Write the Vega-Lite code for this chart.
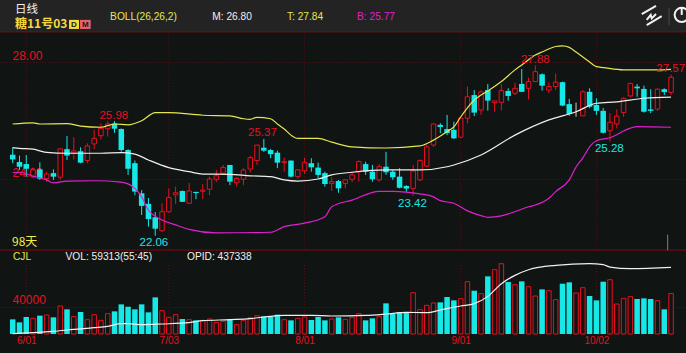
{"$schema":"https://vega.github.io/schema/vega-lite/v6.json","width":686,"height":353,"autosize":{"type":"none"},"padding":0,"background":"#101413","config":{"view":{"stroke":null},"text":{"font":"Liberation Sans"},"axis":{"labelFont":"Liberation Sans"}},
"datasets":{"candles":[
{"i":0,"open":24.83,"high":25.08,"low":24.54,"close":24.67,"dir":"down","volume":21470},
{"i":1,"open":24.58,"high":24.80,"low":24.31,"close":24.42,"dir":"down","volume":17080},
{"i":2,"open":24.51,"high":24.82,"low":24.08,"close":24.35,"dir":"down","volume":24890},
{"i":3,"open":24.07,"high":24.39,"low":24.03,"close":24.31,"dir":"up","volume":22940},
{"i":4,"open":24.33,"high":24.57,"low":23.97,"close":24.01,"dir":"down","volume":26840},
{"i":5,"open":24.01,"high":24.25,"low":23.90,"close":24.17,"dir":"up","volume":27820},
{"i":6,"open":24.20,"high":24.33,"low":23.97,"close":24.08,"dir":"down","volume":24400},
{"i":7,"open":24.06,"high":25.05,"low":23.97,"close":25.03,"dir":"up","volume":40990},
{"i":8,"open":25.02,"high":25.47,"low":24.65,"close":24.80,"dir":"down","volume":36110},
{"i":9,"open":24.89,"high":25.43,"low":24.67,"close":24.96,"dir":"up","volume":25380},
{"i":10,"open":24.95,"high":25.08,"low":24.54,"close":24.56,"dir":"down","volume":32210},
{"i":11,"open":24.63,"high":25.22,"low":24.54,"close":25.13,"dir":"up","volume":20980},
{"i":12,"open":25.20,"high":25.68,"low":25.02,"close":25.39,"dir":"up","volume":28300},
{"i":13,"open":25.48,"high":25.90,"low":25.36,"close":25.73,"dir":"up","volume":20010},
{"i":14,"open":25.72,"high":25.97,"low":25.45,"close":25.88,"dir":"up","volume":29770},
{"i":15,"open":25.90,"high":25.98,"low":25.58,"close":25.72,"dir":"down","volume":33180},
{"i":16,"open":25.71,"high":25.73,"low":24.93,"close":24.99,"dir":"down","volume":43430},
{"i":17,"open":24.99,"high":25.02,"low":24.14,"close":24.35,"dir":"down","volume":40020},
{"i":18,"open":24.54,"high":24.63,"low":23.45,"close":23.57,"dir":"down","volume":36110},
{"i":19,"open":23.51,"high":23.62,"low":22.77,"close":23.08,"dir":"down","volume":43430},
{"i":20,"open":23.15,"high":23.35,"low":22.37,"close":22.63,"dir":"down","volume":31720},
{"i":21,"open":22.69,"high":22.87,"low":22.06,"close":22.30,"dir":"down","volume":53680},
{"i":22,"open":22.23,"high":23.17,"low":22.20,"close":22.88,"dir":"up","volume":34160},
{"i":23,"open":22.88,"high":23.68,"low":22.85,"close":23.37,"dir":"up","volume":24400},
{"i":24,"open":23.46,"high":23.74,"low":23.15,"close":23.53,"dir":"up","volume":28300},
{"i":25,"open":23.59,"high":23.61,"low":23.21,"close":23.22,"dir":"down","volume":21960},
{"i":26,"open":23.17,"high":23.87,"low":23.15,"close":23.59,"dir":"up","volume":20980},
{"i":27,"open":23.56,"high":23.56,"low":23.31,"close":23.52,"dir":"down","volume":20010},
{"i":28,"open":23.58,"high":23.83,"low":23.31,"close":23.62,"dir":"up","volume":20010},
{"i":29,"open":23.65,"high":24.08,"low":23.45,"close":24.00,"dir":"up","volume":21960},
{"i":30,"open":23.99,"high":24.31,"low":23.89,"close":24.11,"dir":"up","volume":17080},
{"i":31,"open":24.20,"high":24.48,"low":24.14,"close":24.39,"dir":"up","volume":18540},
{"i":32,"open":24.48,"high":24.48,"low":23.79,"close":23.91,"dir":"down","volume":20980},
{"i":33,"open":23.87,"high":24.07,"low":23.74,"close":24.02,"dir":"up","volume":13660},
{"i":34,"open":23.99,"high":24.37,"low":23.79,"close":24.31,"dir":"up","volume":20010},
{"i":35,"open":24.34,"high":24.79,"low":24.23,"close":24.73,"dir":"up","volume":23910},
{"i":36,"open":24.63,"high":25.16,"low":24.48,"close":25.16,"dir":"up","volume":26840},
{"i":37,"open":25.07,"high":25.37,"low":24.93,"close":24.97,"dir":"down","volume":25860},
{"i":38,"open":24.99,"high":25.03,"low":24.71,"close":24.85,"dir":"down","volume":25860},
{"i":39,"open":24.90,"high":24.97,"low":24.37,"close":24.56,"dir":"down","volume":28300},
{"i":40,"open":24.56,"high":24.73,"low":24.25,"close":24.59,"dir":"up","volume":20980},
{"i":41,"open":24.63,"high":24.63,"low":24.06,"close":24.08,"dir":"down","volume":20010},
{"i":42,"open":24.08,"high":24.34,"low":24.02,"close":24.31,"dir":"up","volume":22940},
{"i":43,"open":24.28,"high":24.73,"low":24.17,"close":24.57,"dir":"up","volume":24890},
{"i":44,"open":24.54,"high":24.71,"low":24.25,"close":24.40,"dir":"down","volume":20500},
{"i":45,"open":24.39,"high":24.56,"low":24.02,"close":24.14,"dir":"down","volume":24890},
{"i":46,"open":24.20,"high":24.25,"low":23.74,"close":23.83,"dir":"down","volume":20010},
{"i":47,"open":23.85,"high":24.06,"low":23.59,"close":23.91,"dir":"up","volume":21960},
{"i":48,"open":23.93,"high":23.97,"low":23.53,"close":23.68,"dir":"down","volume":24400},
{"i":49,"open":23.85,"high":23.99,"low":23.68,"close":23.97,"dir":"up","volume":21470},
{"i":50,"open":23.99,"high":24.25,"low":23.89,"close":24.14,"dir":"up","volume":24400},
{"i":51,"open":24.25,"high":24.63,"low":23.91,"close":24.60,"dir":"up","volume":29770},
{"i":52,"open":24.51,"high":24.59,"low":24.14,"close":24.25,"dir":"down","volume":20010},
{"i":53,"open":24.25,"high":24.48,"low":23.91,"close":23.99,"dir":"down","volume":22940},
{"i":54,"open":23.97,"high":24.51,"low":23.91,"close":24.42,"dir":"up","volume":25380},
{"i":55,"open":24.42,"high":24.93,"low":24.14,"close":24.23,"dir":"down","volume":44900},
{"i":56,"open":24.25,"high":24.31,"low":23.97,"close":24.06,"dir":"down","volume":29280},
{"i":57,"open":24.08,"high":24.37,"low":23.68,"close":23.70,"dir":"down","volume":32210},
{"i":58,"open":23.76,"high":23.79,"low":23.57,"close":23.67,"dir":"down","volume":32210},
{"i":59,"open":23.68,"high":24.48,"low":23.42,"close":24.28,"dir":"up","volume":60510},
{"i":60,"open":23.97,"high":24.67,"low":23.93,"close":24.63,"dir":"up","volume":35620},
{"i":61,"open":24.44,"high":25.16,"low":24.42,"close":25.10,"dir":"up","volume":41970},
{"i":62,"open":25.16,"high":25.90,"low":25.10,"close":25.88,"dir":"up","volume":45380},
{"i":63,"open":25.85,"high":25.91,"low":25.57,"close":25.78,"dir":"down","volume":46360},
{"i":64,"open":25.71,"high":26.19,"low":25.50,"close":25.57,"dir":"down","volume":54170},
{"i":65,"open":25.68,"high":25.96,"low":25.37,"close":25.39,"dir":"down","volume":49290},
{"i":66,"open":25.43,"high":26.11,"low":25.39,"close":26.08,"dir":"up","volume":51730},
{"i":67,"open":26.08,"high":27.16,"low":25.90,"close":26.81,"dir":"up","volume":76620},
{"i":68,"open":26.87,"high":27.04,"low":26.15,"close":26.27,"dir":"down","volume":63440},
{"i":69,"open":26.36,"high":27.04,"low":26.19,"close":26.98,"dir":"up","volume":59050},
{"i":70,"open":27.04,"high":27.25,"low":26.34,"close":26.68,"dir":"down","volume":84420},
{"i":71,"open":26.61,"high":26.67,"low":26.30,"close":26.67,"dir":"up","volume":94180},
{"i":72,"open":26.62,"high":27.25,"low":26.34,"close":27.02,"dir":"up","volume":102970},
{"i":73,"open":27.01,"high":27.10,"low":26.68,"close":26.84,"dir":"down","volume":76130},
{"i":74,"open":26.93,"high":27.29,"low":26.87,"close":27.10,"dir":"up","volume":72220},
{"i":75,"open":27.25,"high":27.76,"low":26.98,"close":26.98,"dir":"down","volume":77100},
{"i":76,"open":27.10,"high":27.46,"low":26.72,"close":27.33,"dir":"up","volume":69300},
{"i":77,"open":27.33,"high":27.88,"low":27.33,"close":27.67,"dir":"up","volume":55630},
{"i":78,"open":27.58,"high":27.61,"low":27.02,"close":27.19,"dir":"down","volume":65390},
{"i":79,"open":27.04,"high":27.31,"low":26.93,"close":27.16,"dir":"up","volume":63440},
{"i":80,"open":27.16,"high":27.61,"low":27.04,"close":27.31,"dir":"up","volume":50260},
{"i":81,"open":27.31,"high":27.33,"low":26.49,"close":26.51,"dir":"down","volume":73690},
{"i":82,"open":26.56,"high":26.74,"low":26.16,"close":26.22,"dir":"down","volume":75640},
{"i":83,"open":26.32,"high":26.61,"low":26.13,"close":26.30,"dir":"flat","volume":60020},
{"i":84,"open":26.16,"high":27.04,"low":26.15,"close":26.98,"dir":"up","volume":67830},
{"i":85,"open":26.98,"high":27.10,"low":26.42,"close":26.47,"dir":"down","volume":55630},
{"i":86,"open":26.53,"high":26.76,"low":26.19,"close":26.33,"dir":"down","volume":49290},
{"i":87,"open":26.33,"high":26.43,"low":25.56,"close":25.58,"dir":"down","volume":76620},
{"i":88,"open":25.65,"high":26.25,"low":25.28,"close":25.94,"dir":"up","volume":79540},
{"i":89,"open":25.88,"high":26.38,"low":25.73,"close":26.15,"dir":"up","volume":43920},
{"i":90,"open":26.27,"high":26.79,"low":26.13,"close":26.76,"dir":"up","volume":52220},
{"i":91,"open":26.84,"high":27.29,"low":26.81,"close":27.27,"dir":"up","volume":54660},
{"i":92,"open":27.16,"high":27.25,"low":26.81,"close":27.10,"dir":"down","volume":51240},
{"i":93,"open":27.08,"high":27.19,"low":26.27,"close":26.30,"dir":"down","volume":52220},
{"i":94,"open":26.38,"high":27.07,"low":26.25,"close":26.33,"dir":"down","volume":51240},
{"i":95,"open":26.39,"high":27.10,"low":26.33,"close":27.07,"dir":"up","volume":48800},
{"i":96,"open":27.07,"high":27.10,"low":26.87,"close":26.97,"dir":"down","volume":36110},
{"i":97,"open":26.96,"high":27.57,"low":26.87,"close":27.48,"dir":"up","volume":59313}],
"boll":[
{"s":"T","i":0,"p":25.88},{"s":"T","i":3,"p":25.92},{"s":"T","i":4,"p":25.88},{"s":"T","i":8,"p":25.89},{"s":"T","i":10,"p":25.81},{"s":"T","i":13,"p":25.77},{"s":"T","i":15,"p":25.88},{"s":"T","i":17,"p":25.85},{"s":"T","i":19,"p":25.99},{"s":"T","i":21,"p":26.27},{"s":"T","i":23,"p":26.27},{"s":"T","i":28,"p":26.18},{"s":"T","i":32,"p":26.16},{"s":"T","i":34,"p":26.06},{"s":"T","i":35,"p":26.04},{"s":"T","i":36,"p":26.11},{"s":"T","i":38,"p":26.06},{"s":"T","i":39,"p":25.88},{"s":"T","i":40,"p":25.71},{"s":"T","i":41,"p":25.50},{"s":"T","i":42,"p":25.39},{"s":"T","i":45,"p":25.39},{"s":"T","i":47,"p":25.26},{"s":"T","i":50,"p":25.10},{"s":"T","i":55,"p":25.06},{"s":"T","i":60,"p":25.13},{"s":"T","i":62,"p":25.33},{"s":"T","i":64,"p":25.62},{"s":"T","i":65,"p":25.78},{"s":"T","i":66,"p":26.12},{"s":"T","i":67,"p":26.43},{"s":"T","i":68,"p":26.70},{"s":"T","i":69,"p":26.87},{"s":"T","i":70,"p":27.01},{"s":"T","i":72,"p":27.33},{"s":"T","i":74,"p":27.73},{"s":"T","i":75,"p":27.90},{"s":"T","i":77,"p":28.24},{"s":"T","i":78,"p":28.34},{"s":"T","i":80,"p":28.53},{"s":"T","i":81,"p":28.55},{"s":"T","i":82,"p":28.50},{"s":"T","i":83,"p":28.34},{"s":"T","i":85,"p":28.00},{"s":"T","i":86,"p":27.84},{"s":"T","i":87,"p":27.81},{"s":"T","i":90,"p":27.73},{"s":"T","i":95,"p":27.73},{"s":"T","i":97,"p":27.75},
{"s":"M","i":0,"p":25.07},{"s":"M","i":1,"p":25.05},{"s":"M","i":3,"p":25.02},{"s":"M","i":4,"p":24.96},{"s":"M","i":5,"p":24.91},{"s":"M","i":8,"p":24.88},{"s":"M","i":13,"p":24.88},{"s":"M","i":16,"p":24.90},{"s":"M","i":18,"p":24.85},{"s":"M","i":20,"p":24.65},{"s":"M","i":23,"p":24.39},{"s":"M","i":26,"p":24.25},{"s":"M","i":28,"p":24.17},{"s":"M","i":32,"p":24.16},{"s":"M","i":35,"p":24.11},{"s":"M","i":38,"p":24.08},{"s":"M","i":40,"p":23.97},{"s":"M","i":42,"p":23.93},{"s":"M","i":45,"p":24.00},{"s":"M","i":47,"p":24.14},{"s":"M","i":50,"p":24.23},{"s":"M","i":55,"p":24.31},{"s":"M","i":60,"p":24.31},{"s":"M","i":64,"p":24.42},{"s":"M","i":65,"p":24.48},{"s":"M","i":69,"p":24.82},{"s":"M","i":74,"p":25.50},{"s":"M","i":79,"p":26.02},{"s":"M","i":83,"p":26.30},{"s":"M","i":86,"p":26.59},{"s":"M","i":89,"p":26.64},{"s":"M","i":93,"p":26.76},{"s":"M","i":97,"p":26.80},
{"s":"B","i":0,"p":24.22},{"s":"B","i":1,"p":24.23},{"s":"B","i":3,"p":24.10},{"s":"B","i":5,"p":23.97},{"s":"B","i":6,"p":23.87},{"s":"B","i":8,"p":23.93},{"s":"B","i":12,"p":23.94},{"s":"B","i":16,"p":23.89},{"s":"B","i":18,"p":23.68},{"s":"B","i":19,"p":23.39},{"s":"B","i":20,"p":22.94},{"s":"B","i":22,"p":22.60},{"s":"B","i":24,"p":22.43},{"s":"B","i":26,"p":22.28},{"s":"B","i":30,"p":22.16},{"s":"B","i":38,"p":22.18},{"s":"B","i":40,"p":22.37},{"s":"B","i":43,"p":22.49},{"s":"B","i":46,"p":22.71},{"s":"B","i":47,"p":23.05},{"s":"B","i":50,"p":23.28},{"s":"B","i":54,"p":23.58},{"s":"B","i":56,"p":23.58},{"s":"B","i":60,"p":23.49},{"s":"B","i":62,"p":23.39},{"s":"B","i":63,"p":23.26},{"s":"B","i":65,"p":23.17},{"s":"B","i":67,"p":22.91},{"s":"B","i":69,"p":22.75},{"s":"B","i":70,"p":22.69},{"s":"B","i":72,"p":22.74},{"s":"B","i":74,"p":22.88},{"s":"B","i":76,"p":23.05},{"s":"B","i":77,"p":23.11},{"s":"B","i":79,"p":23.34},{"s":"B","i":80,"p":23.57},{"s":"B","i":82,"p":23.97},{"s":"B","i":83,"p":24.41},{"s":"B","i":84,"p":24.72},{"s":"B","i":85,"p":25.10},{"s":"B","i":86,"p":25.31},{"s":"B","i":88,"p":25.41},{"s":"B","i":91,"p":25.74},{"s":"B","i":92,"p":25.79},{"s":"B","i":97,"p":25.77}],
"volma":[{"i":0,"v":500},{"i":3,"v":1950},{"i":6,"v":3900},{"i":9,"v":6830},{"i":12,"v":9270},{"i":14,"v":11220},{"i":16,"v":15130},{"i":17,"v":15130},{"i":19,"v":13660},{"i":22,"v":14640},{"i":26,"v":16590},{"i":28,"v":19520},{"i":32,"v":20980},{"i":35,"v":22450},{"i":37,"v":24890},{"i":40,"v":27330},{"i":44,"v":27330},{"i":47,"v":26350},{"i":52,"v":27330},{"i":55,"v":29280},{"i":58,"v":31720},{"i":61,"v":31230},{"i":63,"v":35140},{"i":66,"v":40990},{"i":68,"v":44410},{"i":70,"v":55140},{"i":72,"v":73690},{"i":74,"v":85890},{"i":76,"v":94180},{"i":80,"v":100530},{"i":85,"v":102970},{"i":87,"v":101500},{"i":88,"v":98090},{"i":91,"v":95650},{"i":97,"v":97600}],
"vgrid":[{"i":2,"p":29.03,"p2":21.57},{"i":23,"p":29.03,"p2":21.57},{"i":43,"p":29.03,"p2":21.57},{"i":66,"p":29.03,"p2":21.57},{"i":86,"p":29.03,"p2":21.57},{"i":2,"p":21.06,"p2":18.70},{"i":23,"p":21.06,"p2":18.70},{"i":43,"p":21.06,"p2":18.70},{"i":66,"p":21.06,"p2":18.70},{"i":86,"p":21.06,"p2":18.70}],
"panel":[{"i":-1.871,"i2":99.2,"p":30.12,"p2":29.03}],
"separators":[{"p":29.03},{"p":21.57}],
"badges":[{"name":"D","i":8.30,"i2":9.77,"p":29.44,"p2":29.13},{"name":"M","i":9.92,"i2":11.49,"p":29.44,"p2":29.13}],
"highs":[{"i":14.9,"p":26.15,"t":"25.98"},{"i":36.8,"p":25.56,"t":"25.37"},{"i":77,"p":28.07,"t":"27.88"},{"i":96.95,"p":27.75,"t":"27.57"}],
"lows":[{"i":20.8,"p":21.81,"t":"22.06"},{"i":58.9,"p":23.15,"t":"23.42"},{"i":87.9,"p":25.02,"t":"25.28"}],
"info":[{"tone":"yellow","i":14.35,"p":29.54,"t":"BOLL(26,26,2)"},{"tone":"white","i":29.4,"p":29.54,"t":"M: 26.80"},{"tone":"yellow","i":40.4,"p":29.54,"t":"T: 27.84"},{"tone":"magenta","i":50.73,"p":29.54,"t":"B: 25.77"},{"tone":"yellow","i":0.04,"p":21.33,"t":"CJL"},{"tone":"white","i":7.78,"p":21.33,"t":"VOL: 59313(55:45)"},{"tone":"white","i":25.68,"p":21.33,"t":"OPID: 437338"}],
"icon":[{"seg":"a","i":92.68,"p":29.64},{"seg":"a","i":94.78,"p":29.92},{"seg":"b","i":93.41,"p":29.44},{"seg":"b","i":94.0,"p":29.61},{"seg":"b","i":94.15,"p":29.49},{"seg":"b","i":94.78,"p":29.64},{"seg":"c","i":93.41,"p":29.26},{"seg":"c","i":95.62,"p":29.57},{"seg":"d","i":98.57,"p":29.85},{"seg":"d","i":98.57,"p":29.61}]},
"encoding":{"x":{"field":"i","type":"quantitative","scale":{"domain":[-1.871,99.2],"nice":false,"zero":false,"padding":0},"axis":{"values":[2,23,43,66,86],"labelExpr":"datum.value==2?'6/01':datum.value==23?'7/03':datum.value==43?'8/01':datum.value==66?'9/01':'10/02'","title":null,"grid":false,"ticks":false,"domain":false,"labelPadding":-13,"labelBaseline":"middle","labelColor":"#e8101f","labelFontSize":10,"labelOverlap":false,"labelFlush":false}}},
"layer":[
{"encoding":{"y":{"field":"p","type":"quantitative","scale":{"domain":[18.0513,30.1197],"nice":false,"zero":false,"padding":0},"axis":{"orient":"left","values":[24,28],"format":".2f","title":null,"grid":true,"gridColor":"#5e0d14","gridDash":[1,2],"ticks":false,"domain":false,"labelAlign":"left","labelBaseline":"bottom","labelPadding":-12,"labelOffset":0,"labelColor":"#e8101f","labelFontSize":12,"labelFlush":false}}},
"layer":[
{"data":{"name":"panel"},"mark":{"type":"rect","color":"#232323"},"encoding":{"x2":{"field":"i2"},"y2":{"field":"p2"}}},
{"data":{"name":"vgrid"},"mark":{"type":"rule","color":"#5e0d14","strokeDash":[1,2],"strokeWidth":1},"encoding":{"y2":{"field":"p2"}}},
{"data":{"name":"separators"},"mark":{"type":"rule","color":"#7a0c16","strokeWidth":1},"encoding":{"x":{"value":0},"x2":{"value":686}}},
{"data":{"name":"candles"},"mark":{"type":"rule","strokeWidth":1},"encoding":{"y":{"field":"high","type":"quantitative"},"y2":{"field":"low"},"color":{"condition":[{"test":"datum.dir==='up'","value":"#e8101f"},{"test":"datum.dir==='flat'","value":"#c8d0d0"}],"value":"#16e8e8"}}},
{"data":{"name":"candles"},"transform":[{"filter":"datum.dir==='down'"}],"mark":{"type":"bar","orient":"vertical","size":5.5,"color":"#16e8e8"},"encoding":{"y":{"field":"open","type":"quantitative"},"y2":{"field":"close"}}},
{"data":{"name":"candles"},"transform":[{"filter":"datum.dir==='up'"}],"mark":{"type":"bar","orient":"vertical","size":4.5,"fill":"#101413","stroke":"#e8101f","strokeWidth":1},"encoding":{"y":{"field":"open","type":"quantitative"},"y2":{"field":"close"}}},
{"data":{"name":"boll"},"mark":{"type":"line","interpolate":"monotone","strokeWidth":1.2},"encoding":{"detail":{"field":"s"},"color":{"field":"s","type":"nominal","scale":{"domain":["T","M","B"],"range":["#e6e650","#f0f0ee","#e020d0"]},"legend":null}}},
{"data":{"name":"highs"},"mark":{"type":"text","color":"#e8101f","fontSize":11.5,"align":"center","baseline":"middle"},"encoding":{"text":{"field":"t"}}},
{"data":{"name":"lows"},"mark":{"type":"text","color":"#20e4e4","fontSize":11.5,"align":"center","baseline":"middle"},"encoding":{"text":{"field":"t"}}},
{"data":{"name":"info"},"mark":{"type":"text","fontSize":10.2,"align":"left","baseline":"middle"},"encoding":{"text":{"field":"t"},"color":{"field":"tone","type":"nominal","scale":{"domain":["yellow","white","magenta"],"range":["#f0ec50","#f2f2f2","#e81ae0"]},"legend":null}}},
{"data":{"values":[{"i":-0.1,"p":21.83,"t":"98天"}]},"mark":{"type":"text","font":"Noto Sans CJK SC","color":"#f0ec50","fontSize":12,"align":"left","baseline":"middle"},"encoding":{"text":{"field":"t"}}},
{"data":{"values":[{"i":0.34,"p":29.79,"t":"日线"}]},"mark":{"type":"text","font":"Noto Sans CJK SC","color":"#f2f2f2","fontSize":11.5,"align":"left","baseline":"middle"},"encoding":{"text":{"field":"t"}}},
{"data":{"values":[{"i":0.34,"p":29.30,"t":"糖11号03"}]},"mark":{"type":"text","font":"Noto Sans CJK SC","fontWeight":"bold","color":"#f5d840","fontSize":12,"align":"left","baseline":"middle"},"encoding":{"text":{"field":"t"}}},
{"data":{"name":"badges"},"mark":{"type":"rect"},"encoding":{"x2":{"field":"i2"},"y2":{"field":"p2"},"color":{"condition":{"test":"datum.name==='D'","value":"#f0dc3c"},"value":"#e8606e"}}},
{"data":{"values":[{"i":9.03,"p":29.28,"t":"D"},{"i":10.7,"p":29.28,"t":"M"}]},"mark":{"type":"text","fontWeight":"bold","color":"#1a1a1a","fontSize":8,"align":"center","baseline":"middle"},"encoding":{"text":{"field":"t"}}},
{"data":{"name":"icon"},"mark":{"type":"line","color":"#f2f2f2","strokeWidth":2,"clip":true},"encoding":{"detail":{"field":"seg"}}},
{"data":{"values":[{"i":96.7,"p":29.85,"p2":29.26}]},"mark":{"type":"rule","color":"#4a4a4a"},"encoding":{"y2":{"field":"p2"}}},
{"data":{"values":[{"i":98.57,"p":29.61}]},"mark":{"type":"point","shape":"circle","size":201,"filled":false,"color":"#f2f2f2","strokeWidth":2,"opacity":1,"clip":true},"encoding":{}},
{"data":{"values":[{"i":96.5,"p":22.1,"p2":21.57}]},"mark":{"type":"rule","color":"#808080"},"encoding":{"y2":{"field":"p2"}}}
]},
{"encoding":{"y":{"type":"quantitative","scale":{"domain":[-27835,489310],"nice":false,"zero":false,"padding":0},"axis":{"orient":"left","values":[40000],"format":"d","title":null,"grid":true,"gridColor":"#5e0d14","gridDash":[1,2],"ticks":false,"domain":false,"labelAlign":"left","labelBaseline":"bottom","labelPadding":-12,"labelColor":"#e8101f","labelFontSize":12,"labelFlush":false}}},
"layer":[
{"data":{"name":"candles"},"transform":[{"filter":"datum.dir==='down'"}],"mark":{"type":"bar","orient":"vertical","size":5.5,"color":"#16e8e8"},"encoding":{"y":{"field":"volume","type":"quantitative","stack":null}}},
{"data":{"name":"candles"},"transform":[{"filter":"datum.dir!=='down'"}],"mark":{"type":"bar","orient":"vertical","size":4.5,"fill":"#101413","stroke":"#e8101f","strokeWidth":1},"encoding":{"y":{"field":"volume","type":"quantitative","stack":null}}},
{"data":{"name":"volma"},"mark":{"type":"line","color":"#f0f0ee","strokeWidth":1.2,"interpolate":"monotone"},"encoding":{"y":{"field":"v","type":"quantitative"}}}
]}
],
"resolve":{"scale":{"y":"independent"}}}
